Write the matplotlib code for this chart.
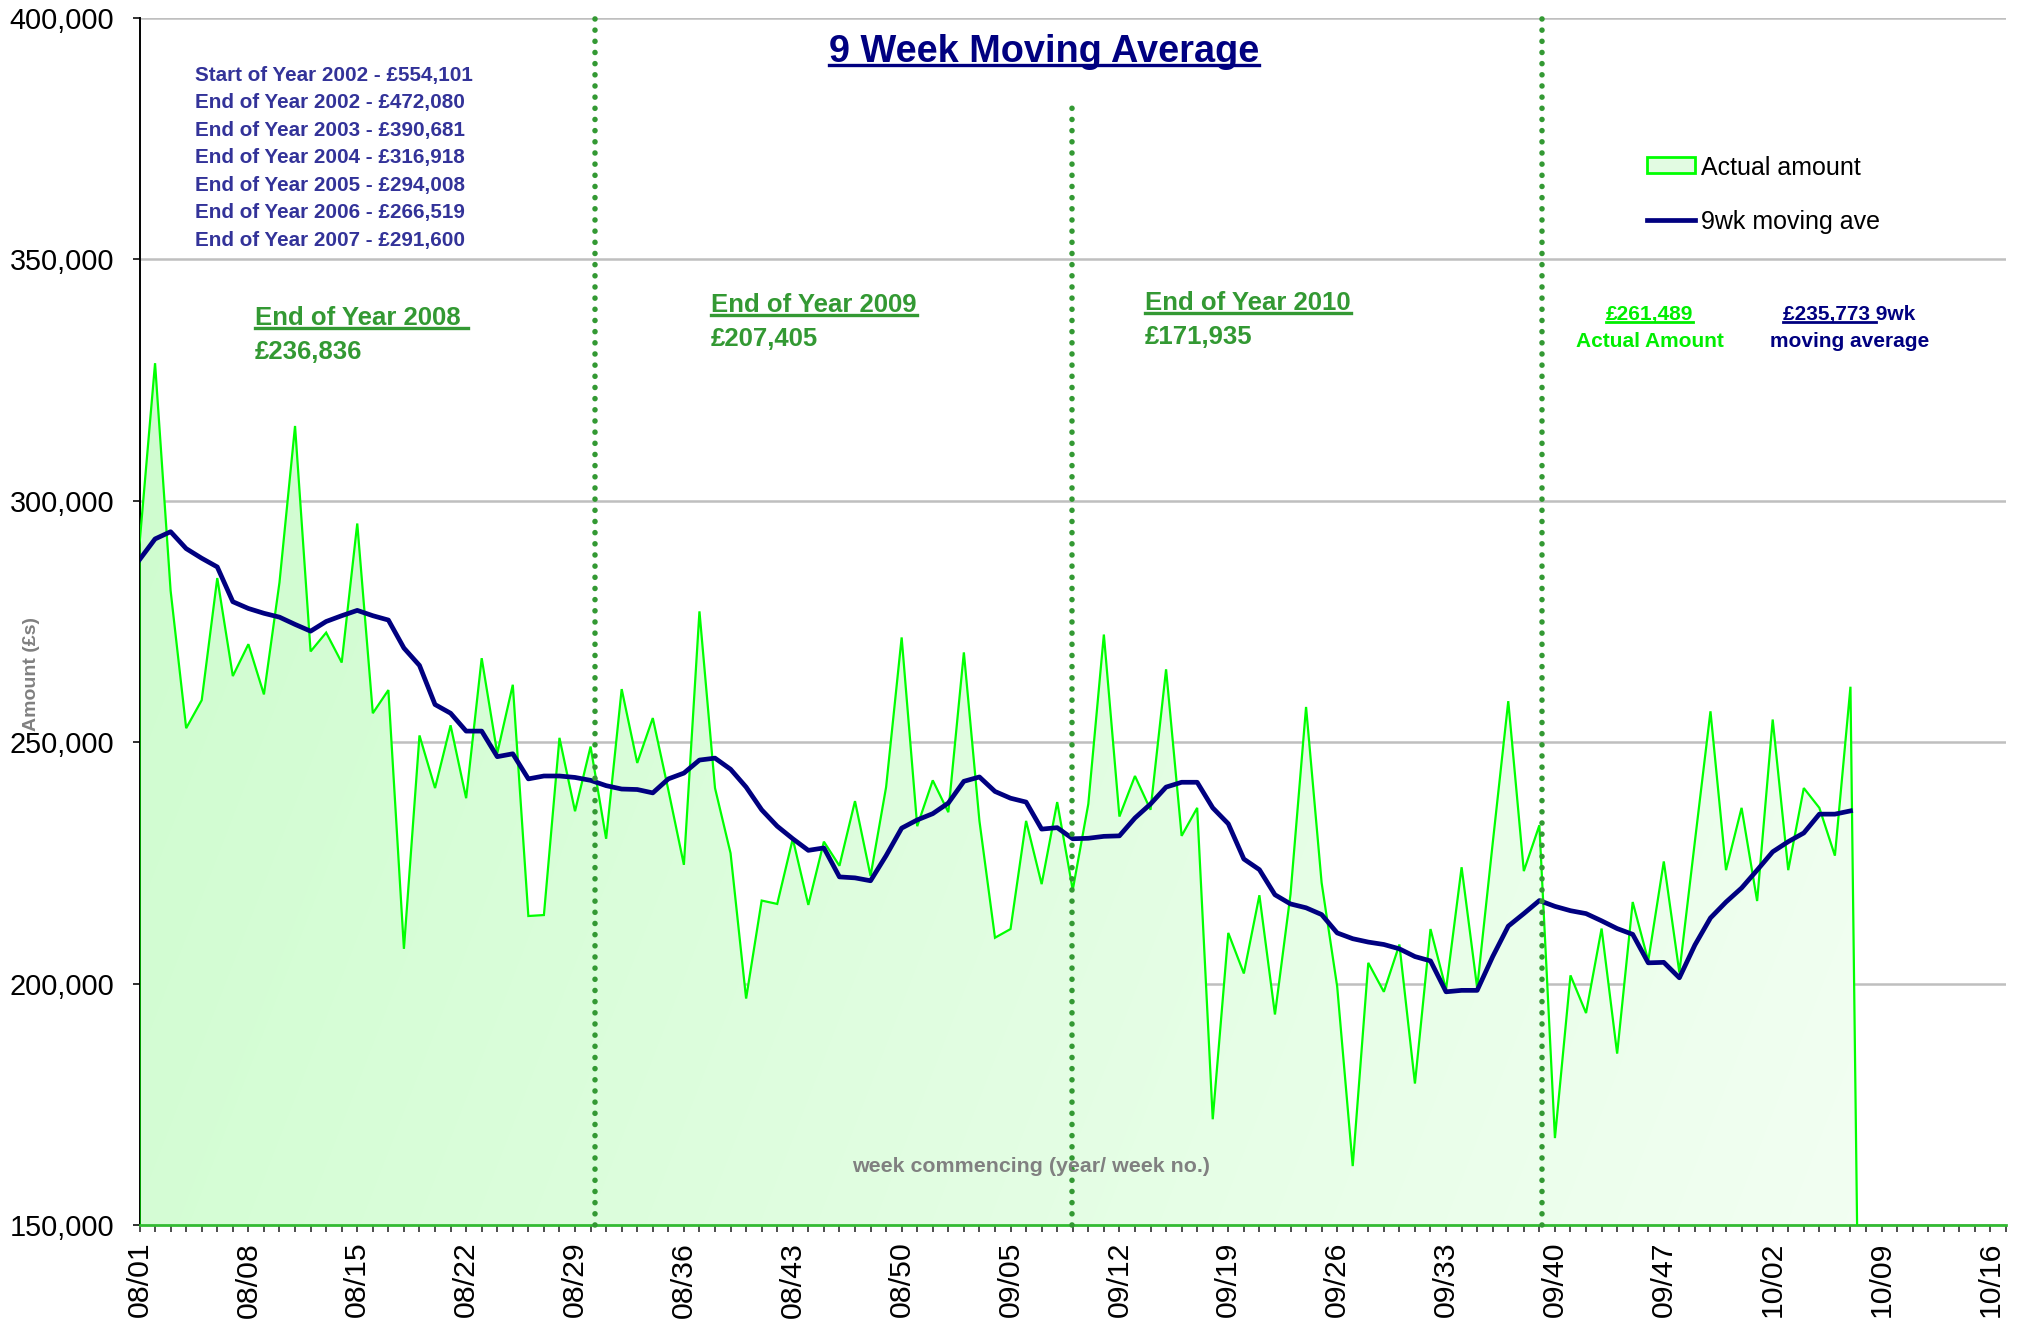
import numpy as np
import matplotlib
matplotlib.use("Agg")
import matplotlib.pyplot as plt
from matplotlib import font_manager
from matplotlib.lines import Line2D
from matplotlib.patches import Polygon, Rectangle
from matplotlib.ticker import FuncFormatter, MultipleLocator

# ---------------------------------------------------------------- data
week_labels = ["08/01", "08/08", "08/15", "08/22", "08/29", "08/36", "08/43",
               "08/50", "09/05", "09/12", "09/19", "09/26", "09/33", "09/40",
               "09/47", "10/02", "10/09", "10/16"]

# weekly takings, one value per week commencing 08/01 .. 10/17
actual_amount = [
    291000, 328500, 281400, 252900, 258700, 284000, 263700, 270300, 259900, 283100,
    315500, 268800, 272700, 266500, 295300, 256000, 260800, 207200, 251400, 240500,
    253500, 238400, 267400, 247700, 261900, 214000, 214200, 250900, 235700, 249100,
    230000, 261000, 245700, 255000, 240100, 224600, 277100, 240500, 227000, 196900,
    217200, 216500, 230000, 216300, 229400, 224400, 237800, 222300, 240700, 271700,
    232600, 242100, 235500, 268600, 233700, 209500, 211300, 233700, 220600, 237600,
    219400, 237200, 272300, 234600, 243000, 236000, 265100, 230600, 236400, 171900,
    210500, 202100, 218300, 193600, 218500, 257300, 220900, 199400, 162200, 204300,
    198300, 208100, 179300, 211300, 198800, 224100, 199100, 229100, 258500, 223300,
    232800, 168000, 201700, 193900, 211400, 185500, 216900, 204700, 225300, 202300,
    229500, 256400, 223500, 236400, 217100, 254700, 223500, 240500, 236400, 226500,
    261489,
    0, 0, 0, 0, 0, 0, 0, 0, 0, 0,
]

moving_average_9wk = [
    287800, 292100, 293600, 290100, 288100, 286300, 279100, 277700, 276700, 275900,
    274400, 273000, 275000, 276200, 277300, 276200, 275300, 269500, 265900, 257800,
    256000, 252300, 252300, 247000, 247600, 242400, 243000, 243000, 242700, 242100,
    241000, 240300, 240200, 239500, 242400, 243600, 246300, 246700, 244400, 240700,
    236000, 232600, 230000, 227600, 228100, 222100, 221900, 221300, 226500, 232200,
    233900, 235200, 237400, 241900, 242800, 239800, 238400, 237600, 232000, 232300,
    230000, 230100, 230500, 230600, 234300, 237200, 240700, 241700, 241700, 236400,
    233100, 225800, 223600, 218400, 216500, 215700, 214300, 210500, 209300, 208600,
    208100, 207200, 205600, 204700, 198300, 198600, 198600, 205600, 211900, 214500,
    217200, 216000, 215100, 214500, 213000, 211400, 210200, 204300, 204400, 201200,
    208000, 213600, 216900, 219800, 223500, 227300, 229400, 231200, 235100, 235100,
    235773,
]

history_notes = [
    "Start of Year 2002 - £554,101",
    "End of Year 2002 - £472,080",
    "End of Year 2003 - £390,681",
    "End of Year 2004 - £316,918",
    "End of Year 2005 - £294,008",
    "End of Year 2006 - £266,519",
    "End of Year 2007 - £291,600",
]

year_end_titles = ["End of Year 2008 ", "End of Year 2009", "End of Year 2010"]
year_end_values = ["£236,836", "£207,405", "£171,935"]
year_end_weeks = [29.3, 59.95, 90.2]
year_end_tops = [400000, 383500, 400000]

# ---------------------------------------------------------------- fonts
plt.rcParams["font.family"] = ["Liberation Sans", "DejaVu Sans"]


def has_font(name):
    try:
        font_manager.findfont(font_manager.FontProperties(family=name),
                              fallback_to_default=False)
        return True
    except ValueError:
        return False


if has_font("Liberation Sans Narrow"):
    narrow_family, narrow_size = ["Liberation Sans Narrow", "Liberation Sans"], 21.5
else:
    narrow_family, narrow_size = ["Liberation Sans", "DejaVu Sans"], 18.5

# ---------------------------------------------------------------- figure
W, H = 2026, 1325
fig = plt.figure(figsize=(W / 100, H / 100), dpi=100)
fig.patch.set_facecolor("white")


def fx(px):
    return px / W


def fy(py):
    return 1 - py / H


ax = fig.add_axes([fx(139.5), fy(1225), fx(2006) - fx(139.5), fy(18) - fy(1225)])

weeks = np.arange(len(actual_amount))
ma_weeks = np.arange(len(moving_average_9wk))

# area under the weekly amounts, filled with a soft green gradient
verts = [(weeks[0], 0)] + list(zip(weeks, actual_amount)) + [(weeks[-1], 0)]
area = Polygon(verts, closed=True, facecolor="none", edgecolor="#00ff00",
               linewidth=1.6, joinstyle="miter", zorder=3)
ax.add_patch(area)

gx, gy = np.meshgrid(np.linspace(0, 1, 400), np.linspace(0, 1, 200))
t = 0.8 * gx + 0.2 * gy
c_start = np.array([0.80, 0.99, 0.80])
c_end = np.array([0.96, 1.00, 0.96])
gradient = c_start + (c_end - c_start) * t[..., None]
im = ax.imshow(gradient, extent=[0, 120, 150000, 400000], origin="upper",
               aspect="auto", interpolation="bilinear", zorder=1)
im.set_clip_path(area)

# 9 week moving average
ax.plot(ma_weeks, moving_average_9wk, color="#000080", linewidth=3.4,
        solid_joinstyle="round", zorder=4)

# year-end markers
for xw, top in zip(year_end_weeks, year_end_tops):
    ax.plot([xw, xw], [150000, top], color="#339933", linewidth=4.0,
            linestyle=(0, (0.01, 2.0)), dash_capstyle="round", zorder=5,
            clip_on=False)

ax.set_xlim(0, 120)
ax.set_ylim(150000, 400000)

# axes styling
ax.set_yticks(np.arange(150000, 400001, 50000))
ax.yaxis.set_major_formatter(FuncFormatter(lambda v, p: f"{v:,.0f}"))
ax.yaxis.grid(True, color="#bfbfbf", linewidth=1.8)
ax.set_axisbelow(True)

ax.set_xticks(np.arange(0, 120, 7))
ax.set_xticklabels(week_labels)
ax.xaxis.set_minor_locator(MultipleLocator(1))
ax.tick_params(axis="x", which="both", direction="out", length=5, width=1.3,
               color="#404040")
ax.tick_params(axis="x", which="major", labelsize=21.8, labelrotation=90, pad=7)
ax.tick_params(axis="y", direction="out", length=5, width=1.3, color="#202020",
               labelsize=20.8, pad=13)

for side in ("top", "right"):
    ax.spines[side].set_visible(False)
ax.spines["left"].set_color("black")
ax.spines["left"].set_linewidth(1.4)
ax.spines["bottom"].set_color("#33bb33")
ax.spines["bottom"].set_linewidth(2)

# axis titles
fig.text(fx(32), fy(674), "Amount (£s)", rotation=90, ha="center", va="center",
         fontsize=14, fontweight="bold", color="#808080")
fig.text(fx(1031), fy(1167), "week commencing (year/ week no.)", ha="center",
         va="center", fontsize=15.4, fontweight="bold", color="#808080")

# chart title
title = fig.text(fx(1044), fy(61.5), "9 Week Moving Average", ha="center",
                 va="baseline", fontsize=27.3, fontweight="bold", color="#000080")

# history block
for k, note in enumerate(history_notes):
    fig.text(fx(195), fy(81 + 27.45 * k), note, ha="left", va="baseline",
             fontsize=14.9, fontweight="bold", color="#333399")

# year-end annotations
ye_x = [255, 711, 1145]
ye_base = [325, 312, 310]
ye_titles = []
for xp, bp, ttl, val in zip(ye_x, ye_base, year_end_titles, year_end_values):
    ye_titles.append(fig.text(fx(xp), fy(bp), ttl, ha="left", va="baseline",
                              family=narrow_family, fontsize=narrow_size,
                              fontweight="bold", color="#339933"))
    fig.text(fx(xp), fy(bp + 34), val, ha="left", va="baseline",
             family=narrow_family, fontsize=narrow_size, fontweight="bold",
             color="#339933")

# latest values
last_week = len(moving_average_9wk) - 1
latest_actual = fig.text(fx(1649.5), fy(320), f"£{actual_amount[last_week]:,}",
                         ha="center", va="baseline", fontsize=15,
                         fontweight="bold", color="#00ee00")
fig.text(fx(1649.5), fy(346.7), "Actual Amount", ha="center", va="baseline",
         fontsize=15, fontweight="bold", color="#00ee00")
ma_value_str = f"£{moving_average_9wk[last_week]:,}"
latest_ma = fig.text(fx(1849.5), fy(320), ma_value_str + " 9wk", ha="center",
                     va="baseline", fontsize=15, fontweight="bold",
                     color="#000080")
fig.text(fx(1849.5), fy(346.7), "moving average", ha="center", va="baseline",
         fontsize=15, fontweight="bold", color="#000080")

# legend
fig.add_artist(Rectangle((fx(1647), fy(173)), fx(1695) - fx(1647),
                         fy(157) - fy(173), transform=fig.transFigure,
                         facecolor="#e2fbe2", edgecolor="#00ff00", linewidth=2))
fig.add_artist(Line2D([fx(1647), fx(1695)], [fy(220), fy(220)],
                      transform=fig.transFigure, color="#000080", linewidth=3.4))
fig.text(fx(1700.7), fy(175), "Actual amount", ha="left", va="baseline",
         fontsize=18, color="black")
fig.text(fx(1700.7), fy(229.3), "9wk moving ave", ha="left", va="baseline",
         fontsize=18, color="black")

# underlines
fig.canvas.draw()
renderer = fig.canvas.get_renderer()


def underline(txt, base_px, offset_px=3.0, extend_px=0.0, width_px=None, lw=2.2):
    bb = txt.get_window_extent(renderer)
    x0 = bb.x0
    x1 = bb.x0 + width_px if width_px is not None else bb.x1 + extend_px
    yy = fy(base_px + offset_px)
    fig.add_artist(Line2D([x0 / W, x1 / W], [yy, yy], transform=fig.transFigure,
                          color=txt.get_color(), linewidth=lw))


underline(title, 61.5, offset_px=3.5, lw=2.4)
for txt, bp in zip(ye_titles, ye_base):
    underline(txt, bp, offset_px=3.0, lw=2.4)
underline(latest_actual, 320, offset_px=2.0, lw=2.0)

probe = fig.text(0, 0, ma_value_str, fontsize=15, fontweight="bold")
probe_w = probe.get_window_extent(renderer).width
probe.remove()
underline(latest_ma, 320, offset_px=2.0, width_px=probe_w + 6, lw=2.0)

fig.savefig("out.png", dpi=100, facecolor="white")
